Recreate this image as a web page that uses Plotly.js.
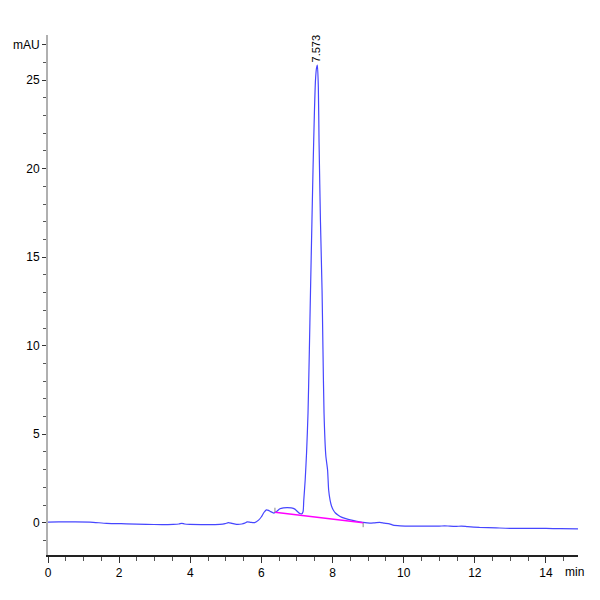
<!DOCTYPE html>
<html>
<head>
<meta charset="utf-8">
<script src="https://cdn.plot.ly/plotly-3.0.1.min.js"></script>
<style>
  body { margin: 0; background: #fff; }
  #chrom { width: 600px; height: 600px; }
</style>
</head>
<body>
<div id="chrom"></div>
<script>
// signal (time in min, absorbance in mAU)
var time_min = [0.00, 0.30, 0.70, 1.18, 1.65, 2.20, 2.77, 3.20, 3.52, 3.68, 3.76, 3.84, 3.99, 4.30, 4.83, 4.98,
    5.07, 5.17, 5.30, 5.45, 5.53, 5.60, 5.70, 5.81, 5.92, 6.00, 6.07, 6.14, 6.20, 6.25, 6.35, 6.42,
    6.52, 6.62, 6.72, 6.84, 6.94, 7.02, 7.08, 7.13, 7.17, 7.19, 7.23, 7.27, 7.31, 7.345, 7.38, 7.42,
    7.45, 7.49, 7.52, 7.55, 7.573, 7.60, 7.62, 7.66, 7.705, 7.73, 7.76, 7.81, 7.86, 7.89, 7.93, 7.97,
    8.02, 8.08, 8.16, 8.25, 8.35, 8.50, 8.63, 8.86, 9.05, 9.19, 9.33, 9.45, 9.60, 9.70, 9.90, 10.26,
    10.73, 11.00, 11.15, 11.30, 11.48, 11.62, 11.80, 12.13, 12.60, 13.07, 13.50, 14.00, 14.40, 14.90];
var signal_mau = [0.04, 0.05, 0.05, 0.04, -0.03, -0.06, -0.09, -0.10, -0.09, -0.07, -0.03, -0.07, -0.09, -0.10, -0.09, -0.05,
    0.01, -0.03, -0.09, -0.07, -0.02, 0.05, 0.02, 0.01, 0.15, 0.34, 0.58, 0.73, 0.70, 0.64, 0.55, 0.62,
    0.79, 0.84, 0.86, 0.84, 0.77, 0.62, 0.52, 0.50, 0.62, 1.25, 2.4, 4.0, 6.2, 9.5, 13.1, 17.0,
    19.9, 23.2, 25.0, 25.7, 25.85, 24.6, 21.5, 17.0, 13.1, 9.8, 6.2, 3.8, 2.98, 1.85, 1.28, 0.95,
    0.72, 0.55, 0.43, 0.32, 0.25, 0.16, 0.11, 0.02, -0.02, 0.00, 0.02, -0.02, -0.06, -0.13, -0.17, -0.19,
    -0.19, -0.19, -0.17, -0.19, -0.20, -0.19, -0.22, -0.26, -0.29, -0.32, -0.32, -0.32, -0.33, -0.34];

// integration baseline under the main peak
var base_x = [6.38, 8.86];
var base_y = [0.59, 0.00];
// start / end markers of the integration
var mark_x = [6.38, 6.38, null, 8.86, 8.86];
var mark_y = [0.59, 0.85, null, 0.00, -0.25];

var peak_rt = 7.573;
var peak_top = 25.85;

var y_ticks = [0, 5, 10, 15, 20, 25, 27];
var y_labels = ['0', '5', '10', '15', '20', '25', 'mAU'];
var x_ticks = [0, 2, 4, 6, 8, 10, 12, 14];

var font_family = '"Liberation Sans Narrow", "Arial Narrow", "Liberation Sans", Arial, sans-serif';

var signal = {
    x: time_min,
    y: signal_mau,
    type: 'scatter',
    mode: 'lines',
    line: {color: '#4646ff', width: 1.2, shape: 'spline', smoothing: 0.6},
    hoverinfo: 'x+y'
};

var baseline = {
    x: base_x,
    y: base_y,
    type: 'scatter',
    mode: 'lines',
    line: {color: '#ff00ff', width: 1.5},
    hoverinfo: 'skip'
};

var markers = {
    x: mark_x,
    y: mark_y,
    type: 'scatter',
    mode: 'lines',
    line: {color: '#888888', width: 1},
    hoverinfo: 'skip'
};

var layout = {
    width: 600,
    height: 600,
    showlegend: false,
    paper_bgcolor: '#ffffff',
    plot_bgcolor: '#ffffff',
    margin: {l: 48, r: 22, t: 35, b: 45},
    font: {family: font_family, size: 12, color: '#000000'},
    xaxis: {
        range: [0, 14.9],
        tickvals: x_ticks,
        ticks: 'outside',
        ticklen: 6,
        tickcolor: '#333333',
        showline: true,
        linecolor: '#222222',
        linewidth: 1.5,
        showgrid: false,
        zeroline: false,
        minor: {dtick: 0.5, ticks: 'outside', ticklen: 4, tickcolor: '#555555'},
        tickfont: {family: font_family, size: 12}
    },
    yaxis: {
        range: [-1.82, 27.55],
        tickvals: y_ticks,
        ticktext: y_labels,
        ticks: 'outside',
        ticklen: 4,
        tickcolor: '#333333',
        showline: true,
        linecolor: '#b0b0b0',
        linewidth: 2,
        showgrid: false,
        zeroline: false,
        minor: {dtick: 1, ticks: 'outside', ticklen: 3, tickcolor: '#555555'},
        tickfont: {family: font_family, size: 12}
    },
    annotations: [
        {
            x: peak_rt, y: peak_top,
            xref: 'x', yref: 'y',
            text: String(peak_rt),
            textangle: -90,
            showarrow: false,
            xanchor: 'center', yanchor: 'bottom',
            xshift: -1, yshift: 1,
            font: {family: font_family, size: 11, color: '#000000'}
        },
        {
            x: 14.8, y: 0,
            xref: 'x', yref: 'paper',
            text: 'min',
            showarrow: false,
            xanchor: 'center', yanchor: 'top',
            yshift: -8,
            font: {family: font_family, size: 12, color: '#000000'}
        }
    ]
};

Plotly.newPlot('chrom', [signal, baseline, markers], layout, {staticPlot: true});
</script>
</body>
</html>
